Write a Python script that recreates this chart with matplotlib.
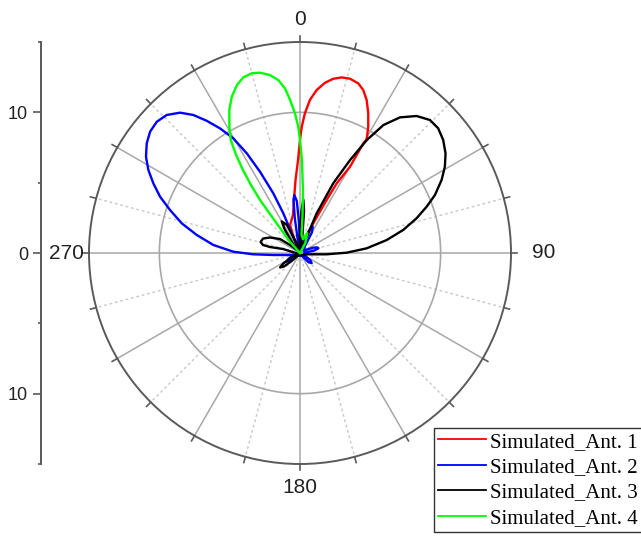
import numpy as np
import matplotlib
matplotlib.use("Agg")
import matplotlib.pyplot as plt
from matplotlib.lines import Line2D

# ---------------- data (angle in degrees, radius in chart units) ----------------
ant1_theta = [-60, -26.6, -19.6, -10.4, -6.5, -3.5, -1.2, 0, 0.8, 2.0, 3.7, 5.85, 8.35, 10.8,
              13.35, 16.0, 18.96, 21.2, 23.55, 26.05, 28.4, 30.5, 30.0, 30.1, 27.8, 26.7,
              24.1, 22, 20, 60]
ant1_r = [0.0, 0.64, 2.11, 2.75, 3.79, 5.2, 6.61, 8.03, 8.98, 9.93, 10.9, 11.65, 12.23, 12.61,
          12.83, 12.89, 12.75, 12.43, 11.86, 11.05, 10.2, 9.33, 9.0, 7.09, 5.6, 4.22,
          2.31, 0.8, 0.0, 0.0]

ant2_theta = [-106.6, -94.3, -91.6, -88.9, -84.7, -80.1, -75.9, -71.7, -68.1, -64.6, -61.3,
              -58.0, -54.4, -51.0, -47.5, -44.0, -40.5, -37.7, -35.2, -32.7, -30.2, -28.1,
              -26.2, -24.1, -22.8, -22.8, -20,
              -10, -8.5, -7, -5.6, -3.5, -2, 0,
              18, 22, 25.8, 30, 36,
              55, 68, 72, 75.6, 80, 88,
              115, 125, 131, 137, 148,
              225, 232, 237, 243, 250]
ant2_r = [0.5, 1.9, 3.32, 4.74, 6.19, 7.45, 8.67, 9.73, 10.72, 11.54, 12.29,
          12.91, 13.4, 13.71, 13.81, 13.64, 13.12, 12.4, 11.5, 10.53, 9.43, 8.03,
          6.44, 4.65, 3.06, 1.52, 0.3,
          0.8, 2.5, 3.8, 4.15, 3.7, 2.2, 0.5,
          0.8, 1.7, 2.08, 1.7, 0.6,
          0.3, 1.0, 1.3, 1.35, 1.05, 0.3,
          0.3, 0.9, 1.1, 0.9, 0.2,
          0.3, 0.9, 1.13, 0.9, 0.55]

ant3_theta = [-140, -134, -130, -126, -122, -116.6, -100,
              -76.8, -78.7, -77.8, -74.4, -68.6, -62.7, -55, -51.3, -45,
              -38, -33, -30, -25, -20, -15,
              -3, 0, 2, 3.6, 5.5, 8, 12,
              18, 22.3, 22.8, 25.5, 28.3, 30.6, 33.1, 36.4, 40.4, 44.35, 47.96, 51.7,
              55.6, 59.2, 62.7, 66.75, 69.9, 73.4, 77.4, 81.5, 86.0, 89.6, 92.8, 101,
              150, 215]
ant3_r = [0.2, 0.8, 1.5, 1.75, 1.4, 0.6, 0.2,
          1.24, 2.17, 2.69, 2.91, 2.82, 2.4, 1.73, 0.91, 0.3,
          0.8, 2.0, 2.6, 2.2, 0.8, 0.1,
          0.3, 1.5, 3.0, 3.8, 3.0, 1.2, 0.3,
          0.3, 1.25, 3.06, 5.49, 7.5, 9.33, 10.86, 11.98, 12.79, 13.22, 13.23, 12.97,
          12.54, 11.99, 11.33, 10.44, 9.59, 8.65, 7.52, 6.23, 4.75, 3.32, 1.9, 0.49,
          0.2, 0.2]

ant4_theta = [-80, -42, -38.7, -37.6, -37, -35.8, -34.5, -33.1, -31.5, -29.2, -26.3, -23.6,
              -20.6, -17.9, -15.0, -12.5, -9.6, -7.15, -5.2, -3.7, -2.05, -0.8, 0, 1.2,
              2.7, 3.8, 4.8, 12, 20, 28, 35, 80]
ant4_r = [0.0, 1.06, 2.27, 3.5, 4.72, 5.96, 7.15, 8.32, 9.42, 10.29, 11.34, 12.12,
          12.75, 13.12, 13.23, 13.13, 12.83, 12.39, 11.75, 10.9, 9.93, 8.98, 8.03, 6.61,
          4.48, 2.71, 1.3, 1.0, 1.5, 0.8, 0.0, 0.0]

series_labels = ["Simulated_Ant. 1", "Simulated_Ant. 2", "Simulated_Ant. 3", "Simulated_Ant. 4"]
series_colors = ["#ff0000", "#0000ff", "#000000", "#00ff00"]
angle_labels = ["0", "90", "180", "270"]
radial_ticks = [-10, 0, 10]
radial_ticklabels = ["10", "0", "10"]
r_max = 15

# ---------------- figure ----------------
W, H = 641, 536
fig = plt.figure(figsize=(W / 100, H / 100), dpi=100)
fig.patch.set_facecolor("white")

cx, cy, R = 300, 253, 211
ax = fig.add_axes([(cx - R) / W, (H - cy - R) / H, 2 * R / W, 2 * R / H], projection="polar")
ax.set_theta_zero_location("N")
ax.set_theta_direction(-1)
ax.set_ylim(0, r_max)
ax.set_xticks([])
ax.set_yticks([])
ax.grid(False)
ax.spines["polar"].set_color("#5a5a5a")
ax.spines["polar"].set_linewidth(1.4)

# grid: solid spokes every 30 deg, dotted every 15 deg between
for a in range(0, 360, 15):
    t = np.deg2rad(a)
    if a % 30 == 0:
        ax.plot([t, t], [0, r_max], color="#a8a8a8", lw=1.1, zorder=1)
    else:
        ax.plot([t, t], [0, r_max], color="#c8c8c8", lw=1.0, ls=(0, (2, 2)), zorder=1)
    ax.plot([t, t], [r_max, r_max + 0.42], color="#5a5a5a", lw=1.2, clip_on=False, zorder=2)

tt = np.linspace(0, 2 * np.pi, 400)
ax.plot(tt, np.full_like(tt, 10), color="#a8a8a8", lw=1.2, zorder=1)

# curves
datasets = [(ant1_theta, ant1_r), (ant2_theta, ant2_r), (ant3_theta, ant3_r), (ant4_theta, ant4_r)]
for (th, rr), col, lab in zip(datasets, series_colors, series_labels):
    th = list(th) + [th[0]]
    rr = list(rr) + [rr[0]]
    ax.plot(np.deg2rad(th), rr, color=col, lw=1.7, label=lab, zorder=3,
            solid_joinstyle="round")

# angular labels
lab_pos = [(0, 16.6), (90, 17.3), (180, 16.7), (270, 16.6)]
for (a, rr), txt in zip(lab_pos, angle_labels):
    ax.text(np.deg2rad(a), rr, txt, ha="center", va="center", fontsize=15,
            family="Liberation Sans", color="#222222", clip_on=False)

# left radial axis
lx = 40.7
axl = fig.add_axes([lx / W, (H - cy - R) / H, 0.001, 2 * R / H])
axl.set_ylim(-r_max, r_max)
axl.set_xticks([])
for s in ["top", "right", "bottom"]:
    axl.spines[s].set_visible(False)
axl.spines["left"].set_color("#5a5a5a")
axl.spines["left"].set_linewidth(1.4)
axl.set_yticks(radial_ticks)
axl.set_yticklabels(radial_ticklabels, family="Liberation Sans", fontsize=13, color="#222222")
axl.set_yticks([-15, -5, 5, 15], minor=True)
axl.tick_params(axis="y", which="major", length=5.5, width=1.2, color="#5a5a5a", pad=3.6)
axl.tick_params(axis="y", which="minor", length=2.4, width=1.2, color="#5a5a5a")
axl.patch.set_visible(False)

# legend
handles = [Line2D([0], [0], color=c, lw=1.3) for c in series_colors]
leg = fig.legend(handles, series_labels, loc="upper left",
                 bbox_to_anchor=(434 / W, 1 - 428 / H), bbox_transform=fig.transFigure,
                 prop={"family": "Liberation Serif", "size": 15},
                 frameon=True, fancybox=False, edgecolor="#333333", framealpha=1,
                 borderpad=0.2, labelspacing=0.28, handlelength=2.3, handletextpad=0.2,
                 borderaxespad=0)
leg.get_frame().set_linewidth(1.0)

fig.savefig("out.png", dpi=100, facecolor="white")
